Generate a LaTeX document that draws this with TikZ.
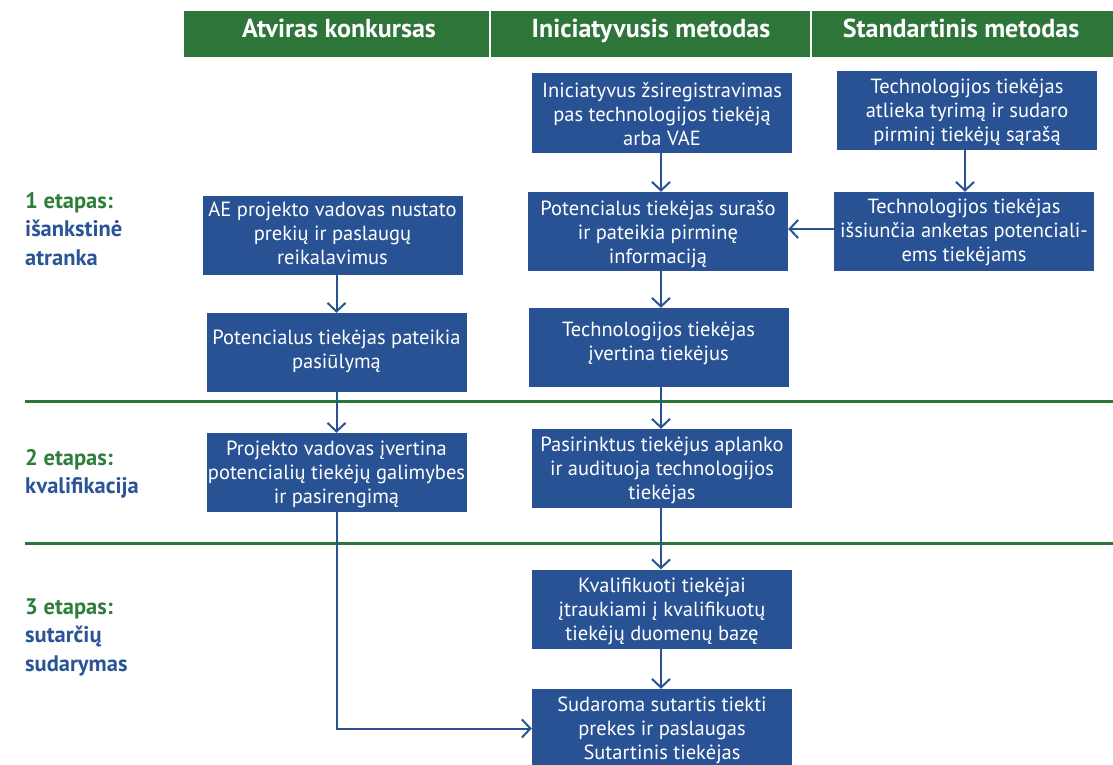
\documentclass[tikz,border=0pt]{standalone}
\usepackage{fontspec}
\setmainfont{PT Sans}
\usetikzlibrary{arrows.meta}
\definecolor{boxblue}{RGB}{40,82,148}
\definecolor{hdrgreen}{RGB}{46,117,58}
\definecolor{lblgreen}{RGB}{46,125,58}
\definecolor{lblblue}{RGB}{42,84,150}
\newcommand{\mytxt}[2]{\parbox[c][79pt][t]{260pt}{\centering\fontsize{20.5}{24}\selectfont\rule{0pt}{#1}#2}}
\newcommand{\stagetxt}[1]{\parbox[t]{170pt}{\raggedright\fontsize{22.5}{28.8}\selectfont\bfseries #1}}
\tikzset{
  box/.style={fill=boxblue, text=white, inner sep=0pt},
  arr/.style={draw=boxblue, line width=2pt, -{Straight Barb[length=8.5pt,width=18pt]}},
  hdr/.style={anchor=base, text=white, inner sep=0pt, font=\fontsize{26}{28}\selectfont\bfseries},
  sep/.style={draw=hdrgreen, line width=3pt},
  stage/.style={anchor=base west, inner sep=0pt, text=lblblue}
}
\begin{document}
\begin{tikzpicture}[x=1pt,y=-1pt]
\useasboundingbox (0,0) rectangle (1113,765);
% header
\fill[hdrgreen] (184,11) rectangle (1113,57);
\draw[white, line width=2pt] (490,11) -- (490,57);
\draw[white, line width=2pt] (811,11) -- (811,57);
\node[hdr] (h1) at (339,38) {Atviras konkursas};
\node[hdr] (h2) at (651,38) {Iniciatyvusis metodas};
\node[hdr] (h3) at (961,38) {Standartinis metodas};
% separators
\draw[sep] (25,401) -- (1113,401);
\draw[sep] (25,543) -- (1113,543);
% stage labels
\node[stage] (s1) at (25,208) {\stagetxt{\textcolor{lblgreen}{1 etapas:}\\išankstinė\\atranka}};
\node[stage] (s2) at (25,465) {\stagetxt{\textcolor{lblgreen}{2 etapas:}\\kvalifikacija}};
\node[stage] (s3) at (25,614) {\stagetxt{\textcolor{lblgreen}{3 etapas:}\\sutarčių\\sudarymas}};
% left column
\node[box] (A1) at (332.5,235.5) {\mytxt{20pt}{AE projekto vadovas nustato\\prekių ir paslaugų\\reikalavimus}};
\node[box] (A2) at (336.5,352.5) {\mytxt{31pt}{Potencialus tiekėjas pateikia\\pasiūlymą}};
\node[box] (A3) at (336.5,472.5) {\mytxt{22.5pt}{Projekto vadovas įvertina\\potencialių tiekėjų galimybes\\ir pasirengimą}};
% centre column
\node[box] (I1) at (662,113) {\mytxt{24pt}{Iniciatyvus žsiregistravimas\\pas technologijos tiekėją\\arba VAE}};
\node[box] (I2) at (658,231.5) {\mytxt{23pt}{Potencialus tiekėjas surašo\\ir pateikia pirminę\\informaciją}};
\node[box] (I3) at (658.5,347.5) {\mytxt{28.5pt}{Technologijos tiekėjas\\įvertina tiekėjus}};
\node[box] (I4) at (662,468.5) {\mytxt{22.5pt}{Pasirinktus tiekėjus aplanko\\ir audituoja technologijos\\tiekėjas}};
\node[box] (I5) at (662,609) {\mytxt{22.5pt}{Kvalifikuoti tiekėjai\\įtraukiami į kvalifikuotų\\tiekėjų duomenų bazę}};
\node[box] (I6) at (662,728.5) {\mytxt{22.5pt}{Sudaroma sutartis tiekti\\prekes ir paslaugas\\Sutartinis tiekėjas}};
% right column
\node[box] (S1) at (967,110.5) {\mytxt{22.5pt}{Technologijos tiekėjas\\atlieka tyrimą ir sudaro\\pirminį tiekėjų sąrašą}};
\node[box] (S2) at (964,231.5) {\mytxt{21.5pt}{Technologijos tiekėjas\\išsiunčia anketas potenciali-\\ems tiekėjams}};
% connectors
\draw[arr] (A2.north |- A1.south) -- (A2.north);
\draw[arr] (A2.south) -- (A3.north);
\draw[arr] (A3.south) -- (A3.south |- I6.west) -- (I6.west);
\draw[arr] (I1.south -| 661,0) -- (I2.north -| 661,0);
\draw[arr] (I2.south -| 661,0) -- (I3.north -| 661,0);
\draw[arr] (I3.south -| 661,0) -- (I4.north -| 661,0);
\draw[arr] (I4.south -| 661,0) -- (I5.north -| 661,0);
\draw[arr] (I5.south -| 661,0) -- (I6.north -| 661,0);
\draw[arr] (S1.south -| 965,0) -- (S2.north -| 965,0);
\draw[arr] (S2.west |- 0,229) -- (I2.east |- 0,229);
\end{tikzpicture}
\end{document}
